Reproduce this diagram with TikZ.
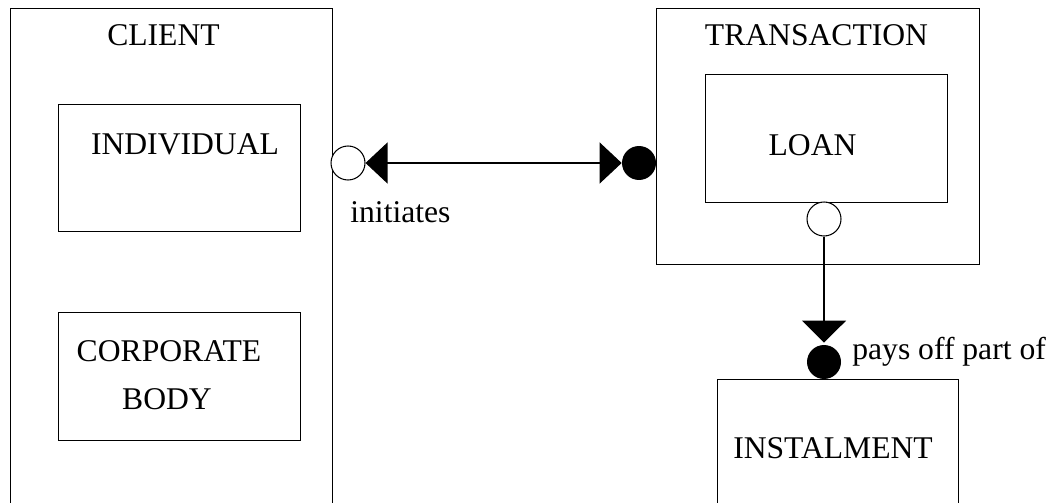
\documentclass[tikz,border=0pt]{standalone}
\usepackage{fontspec}
\setmainfont{Liberation Serif}
\usetikzlibrary{arrows.meta}
\begin{document}
\begin{tikzpicture}[x=0.02cm,y=-0.02cm,
  box/.style={draw,line width=0.6pt,rectangle,inner sep=0pt,anchor=north west},
  lbl/.style={inner sep=0pt,anchor=base,font=\fontsize{18}{22}\selectfont},
  ocirc/.style={draw,circle,line width=0.6pt,minimum size=0.68cm,inner sep=0pt,fill=white},
  fcirc/.style={circle,fill=black,minimum size=0.68cm,inner sep=0pt},
  conn/.style={line width=0.6pt},
  bothtri/.style={{Triangle[length=0.44cm,width=0.82cm]}-{Triangle[length=0.44cm,width=0.82cm]}},
  endtri/.style={-{Triangle[length=0.44cm,width=0.88cm]}}
]
\clip (0,0) rectangle (1050,503);
% CLIENT
\node[box,minimum width=6.44cm,minimum height=10.4cm] (client) at (10,8) {};
\node[lbl] (clientlbl) at (163.5,46) {CLIENT};
\node[box,minimum width=4.84cm,minimum height=2.54cm] (indiv) at (58,104) {};
\node[lbl] (indivlbl) at (185,154) {INDIVIDUAL};
\node[box,minimum width=4.84cm,minimum height=2.56cm] (corp) at (58,312) {};
\node[lbl] (corplbl) at (169,361) {CORPORATE};
\node[lbl] (bodylbl) at (167,409) {BODY};
% TRANSACTION
\node[box,minimum width=6.46cm,minimum height=5.12cm] (trans) at (656,8) {};
\node[lbl] (translbl) at (816.5,46) {TRANSACTION};
\node[box,minimum width=4.84cm,minimum height=2.56cm] (loan) at (705,74) {};
\node[lbl] (loanlbl) at (812.5,155) {LOAN};
% INSTALMENT
\node[box,minimum width=4.82cm,minimum height=3cm] (inst) at (717,379) {};
\node[lbl] (instlbl) at (833,458) {INSTALMENT};
% connector initiates
\node[ocirc] (oc) at (348,163) {};
\node[fcirc] (fc) at (639,163) {};
\draw[conn,bothtri] (oc.east) -- (fc.west);
\node[lbl,anchor=base west] (initlbl) at (350,222) {initiates};
% connector pays off part of
\node[ocirc] (ol) at (824,219) {};
\node[fcirc] (fi) at (824,362) {};
\draw[conn,endtri] (ol.south) -- ([yshift=0.04cm]fi.north);
\node[lbl,anchor=base west] (payslbl) at (852,359) {pays off part of};
\end{tikzpicture}
\end{document}
